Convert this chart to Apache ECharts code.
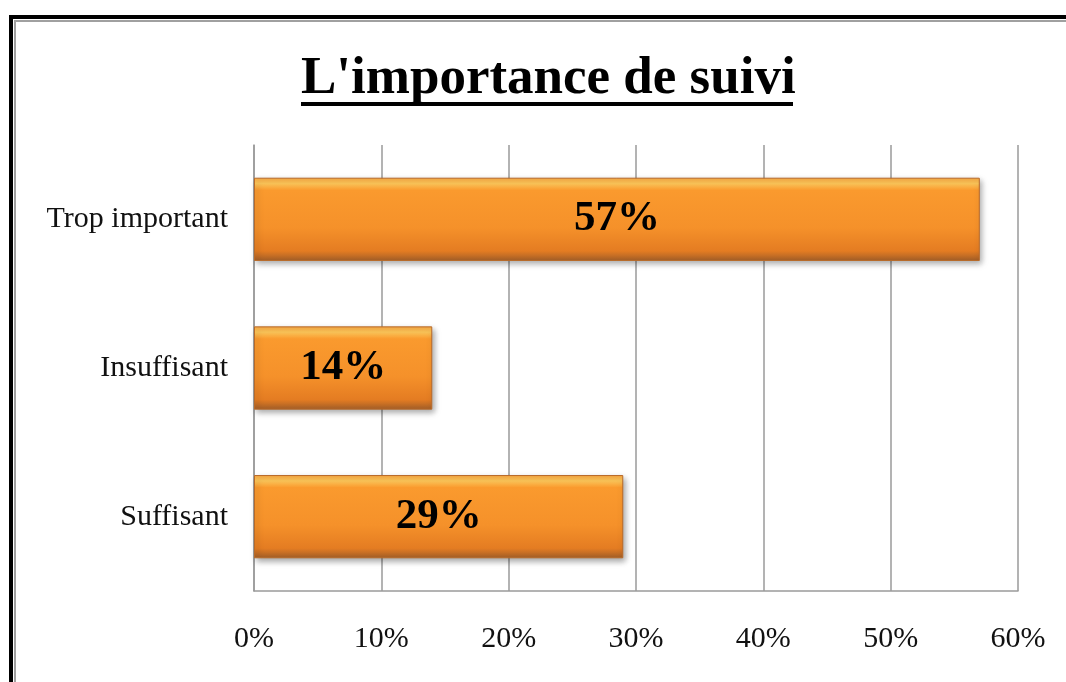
<!DOCTYPE html>
<html>
<head>
<meta charset="utf-8">
<script src="https://cdn.jsdelivr.net/npm/echarts@6/dist/echarts.min.js"></script>
<style>
  html, body { margin: 0; padding: 0; background: #fff; }
  #chart { width: 1066px; height: 682px; }
</style>
</head>
<body>
<div id="chart"></div>
<script>
// data
var categories = ['Suffisant', 'Insuffisant', 'Trop important'];
var values = [29, 14, 57];
var xTicks = [0, 10, 20, 30, 40, 50, 60];

var chart = echarts.init(document.getElementById('chart'));

var barColor = new echarts.graphic.LinearGradient(0, 0, 0, 1, [
    { offset: 0, color: '#F9A843' },
    { offset: 0.07, color: '#FFC85A' },
    { offset: 0.15, color: '#FA9A2E' },
    { offset: 0.6, color: '#F5912A' },
    { offset: 0.88, color: '#E47C22' },
    { offset: 1, color: '#A25E28' }
]);

var option = {
    animation: false,
    grid: {
        left: 254,
        right: 48,
        top: 145,
        bottom: 91
    },
    xAxis: {
        type: 'value',
        min: 0,
        max: 60,
        interval: 10,
        axisLine: { show: true, lineStyle: { color: '#9a9a9a', width: 1.5 } },
        axisTick: { show: false },
        splitLine: { show: true, lineStyle: { color: '#9a9a9a', width: 1.5 } },
        axisLabel: {
            formatter: function (v) { return xTicks.indexOf(v) >= 0 ? v + '%' : ''; },
            fontFamily: 'Liberation Serif',
            fontSize: 30,
            color: '#111',
            margin: 33
        }
    },
    yAxis: {
        type: 'category',
        data: categories,
        axisLine: { show: true, lineStyle: { color: '#9a9a9a', width: 1.5 } },
        axisTick: { show: false },
        axisLabel: {
            fontFamily: 'Liberation Serif',
            fontSize: 30,
            color: '#111',
            margin: 26
        }
    },
    series: [
        {
            type: 'bar',
            data: values,
            barWidth: '56%',
            itemStyle: {
                color: barColor,
                borderColor: '#B86A28',
                borderWidth: 1,
                shadowColor: 'rgba(0,0,0,0.35)',
                shadowBlur: 6,
                shadowOffsetX: 2,
                shadowOffsetY: 3
            },
            label: {
                show: true,
                position: 'inside',
                formatter: '{c}%',
                fontFamily: 'Liberation Serif',
                fontWeight: 'bold',
                fontSize: 43,
                color: '#000'
            }
        }
    ],
    graphic: [
        // outer frame
        {
            type: 'rect',
            shape: { x: 11, y: 17, width: 1100, height: 700 },
            style: { fill: 'none', stroke: '#000', lineWidth: 4 }
        },
        {
            type: 'rect',
            shape: { x: 15, y: 21, width: 1100, height: 700 },
            style: { fill: 'none', stroke: '#a0a0a0', lineWidth: 2 }
        },
        // title
        {
            type: 'text',
            left: 301,
            top: 53,
            style: {
                text: "L'importance de suivi",
                fontFamily: 'Liberation Serif',
                fontWeight: 'bold',
                fontSize: 53,
                fill: '#000'
            }
        },
        {
            type: 'rect',
            shape: { x: 301, y: 102, width: 492, height: 4 },
            style: { fill: '#000' }
        }
    ]
};

chart.setOption(option);
</script>
</body>
</html>
